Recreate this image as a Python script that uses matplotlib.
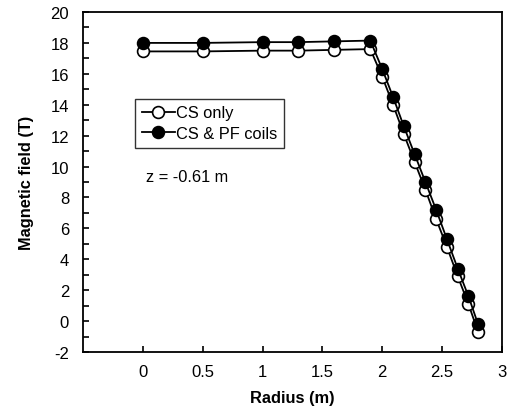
import numpy as np
import matplotlib
matplotlib.use("Agg")
import matplotlib.pyplot as plt
from matplotlib.ticker import MultipleLocator

plt.rcParams['font.family'] = ['Liberation Sans', 'DejaVu Sans']
plt.rcParams['axes.unicode_minus'] = False

radius = [0.0, 0.5, 1.0, 1.3, 1.6, 1.9, 2.0, 2.09, 2.18, 2.27, 2.36, 2.45, 2.54, 2.63, 2.72, 2.8]
b_cs = [17.45, 17.45, 17.5, 17.5, 17.55, 17.6, 15.8, 14.0, 12.1, 10.3, 8.5, 6.6, 4.8, 2.9, 1.1, -0.7]
b_cs_pf = [18.0, 18.0, 18.05, 18.05, 18.1, 18.15, 16.3, 14.5, 12.6, 10.8, 9.0, 7.2, 5.3, 3.4, 1.6, -0.2]
xticks = [0, 0.5, 1, 1.5, 2, 2.5, 3]
xticklabels = ['0', '0.5', '1', '1.5', '2', '2.5', '3']

fig = plt.figure(figsize=(5.07, 4.10), dpi=100)
ax = fig.add_axes([83/507, 1-353/410, (502-83)/507, (353-13)/410])

ax.plot(radius, b_cs, '-o', color='black', mfc='white', mec='black', ms=8.5, mew=1.2, lw=1.3,
        label='CS only', zorder=3)
ax.plot(radius, b_cs_pf, '-o', color='black', mfc='black', mec='black', ms=8.5, mew=1.2, lw=1.3,
        label='CS & PF coils', zorder=4)

ax.set_xlim(-0.5, 3)
ax.set_ylim(-2, 20)
ax.set_xticks(xticks)
ax.set_xticklabels(xticklabels)
ax.yaxis.set_major_locator(MultipleLocator(2))
ax.yaxis.set_minor_locator(MultipleLocator(1))
ax.tick_params(axis='x', direction='in', length=4, width=1.2, labelsize=12, pad=8.5)
ax.tick_params(axis='y', which='major', direction='in', length=4, width=1.2, labelsize=12, pad=10)
ax.tick_params(axis='y', which='minor', direction='in', length=4, width=1.2)
for s in ax.spines.values():
    s.set_linewidth(1.3)

ax.set_xlabel('Radius (m)', fontsize=11.8, fontweight='bold', labelpad=8)
ax.set_ylabel('Magnetic field (T)', fontsize=11.8, fontweight='bold', labelpad=12)

leg = ax.legend(loc='upper left', bbox_to_anchor=(0.125, 0.745), fontsize=11.8, numpoints=1,
                frameon=True, fancybox=False, edgecolor='black', handlelength=2.0,
                handletextpad=0.1, borderpad=0.4, labelspacing=0.35, borderaxespad=0)
leg.get_frame().set_linewidth(1.0)

ax.text(0.15, 0.515, 'z = -0.61 m', transform=ax.transAxes, fontsize=11.8, va='center')

fig.savefig('out.png', dpi=100)
